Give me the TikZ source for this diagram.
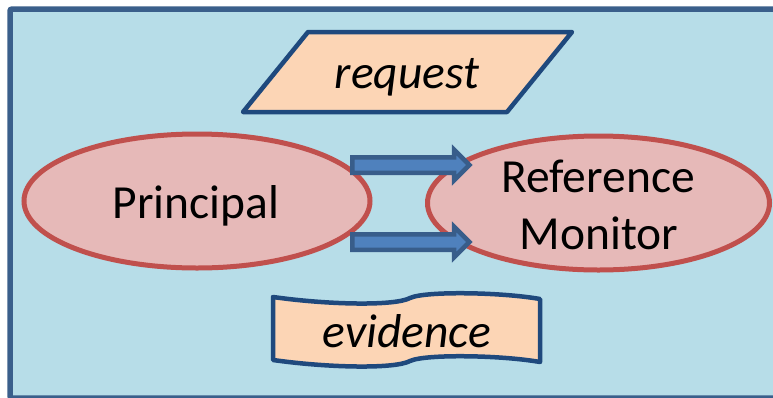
\documentclass[tikz,border=0pt]{standalone}
\usepackage{fontspec}
\setmainfont{Carlito}
\usetikzlibrary{shapes.geometric,shapes.arrows}
\definecolor{panelfill}{HTML}{B7DDE8}
\definecolor{panelline}{HTML}{3A5F8B}
\definecolor{tanfill}{HTML}{FCD5B5}
\definecolor{tanline}{HTML}{1F497D}
\definecolor{rosefill}{HTML}{E6B9B8}
\definecolor{roseline}{HTML}{C0504D}
\definecolor{arrowfill}{HTML}{4F81BD}
\definecolor{arrowline}{HTML}{385D8A}
\tikzset{
  actor/.style={ellipse, draw=roseline, fill=rosefill, line width=5pt,
    minimum width=346pt, minimum height=134pt, inner sep=0pt},
  docbox/.style={draw=tanline, fill=tanfill, line width=4.5pt, line join=round},
  label/.style={font=\fontsize{47.5}{57}\selectfont, inner sep=0pt, anchor=base},
  blockarrow/.style={single arrow, draw=arrowline, fill=arrowfill, line width=4.5pt,
    inner xsep=0pt, inner ysep=5.5pt, single arrow head extend=7.5pt,
    minimum height=117pt, anchor=center}
}
\begin{document}
\begin{tikzpicture}[x=1pt,y=-1pt]
  \useasboundingbox (0,0) rectangle (773,397);
  % panel
  \draw[fill=panelfill, draw=panelline, line width=5.5pt, rounded corners=2pt]
    (10,9) rectangle (800,398);
  % request parallelogram
  \draw[docbox] (308,32) -- (572,32) -- (507,112) -- (243,112) -- cycle;
  \node[label] (req) at (407,88) {\itshape request};
  % principal and reference monitor
  \node[actor] (pr) at (197,201) {};
  \node[actor, minimum width=342pt] (rm) at (598.5,203) {};
  \node[label] (prl) at (196,218) {Principal};
  \node[label] (rml1) at (598,192) {Reference};
  \node[label] (rml2) at (599,249) {Monitor};
  % block arrows
  \node[blockarrow] (a1) at (407,165) {};
  \node[blockarrow] (a2) at (407,242) {};
  % evidence tape
  \draw[docbox] (273,297) .. controls (330,305) and (395,306) .. (410,298)
    .. controls (425,291) and (500,292) .. (540,299) -- (540,362)
    .. controls (500,355) and (425,354) .. (410,361)
    .. controls (395,369) and (330,368) .. (273,360) -- cycle;
  \node[label] (ev) at (407,347) {\itshape evidence};
\end{tikzpicture}
\end{document}
